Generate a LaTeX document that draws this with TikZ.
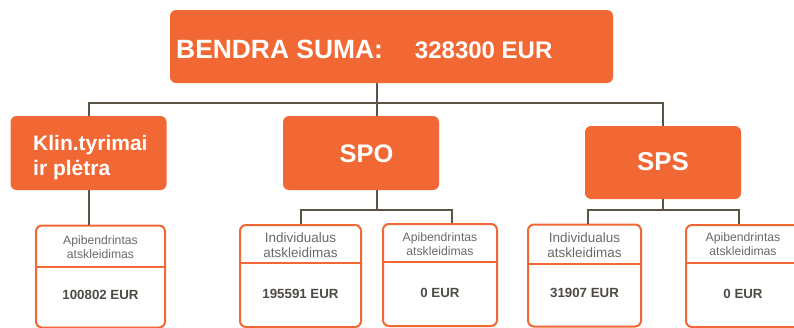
\documentclass[tikz,border=0pt]{standalone}
\usepackage{fontspec}
\setmainfont{Liberation Sans}
\usetikzlibrary{positioning}
\definecolor{oranzine}{HTML}{F26835}
\definecolor{linija}{HTML}{5A5546}
\definecolor{pilka}{HTML}{6B6966}
\definecolor{tamsi}{HTML}{4E4A44}
\tikzset{
  blokas/.style={fill=oranzine, rounded corners=6pt, inner sep=0pt},
  tekstas/.style={text=white, font=\bfseries, inner sep=0pt},
  jungtis/.style={draw=linija, line width=2pt},
  dezute/.style={draw=oranzine, line width=2pt, rounded corners=6pt, inner sep=0pt,
                 minimum height=102pt, anchor=north},
  skyrius/.style={draw=oranzine, line width=2pt},
  antraste/.style={text=pilka, align=center, inner sep=0pt},
  suma/.style={text=tamsi, font=\fontsize{13.3}{15}\selectfont\bfseries, inner sep=0pt},
}

\begin{document}
\begin{tikzpicture}[x=1pt, y=-1pt]
  \useasboundingbox (0,0) rectangle (794,327);
  \clip (0,0) rectangle (794,327);

  % Viršus
  \node[blokas, minimum width=443pt, minimum height=73pt] (bendra) at (391.5,46.5) {};
  \node[tekstas, anchor=base west] (bendralbl) at (176,58.3)
    {\fontsize{26.4}{30}\selectfont BENDRA SUMA:\hspace{32pt}\fontsize{24}{28}\selectfont 328300 EUR};

  % Antras lygis
  \node[blokas, minimum width=156pt, minimum height=74pt] (klin) at (88.5,153) {};
  \node[tekstas, anchor=base west, align=left, font=\fontsize{21}{25}\selectfont\bfseries] (klinlbl) at (33,175)
    {Klin.tyrimai\\ir plėtra};
  \node[blokas, minimum width=156pt, minimum height=74pt] (spo) at (361,153) {};
  \node[tekstas, font=\fontsize{25.4}{30}\selectfont\bfseries] (spolbl) at (366.5,154) {SPO};
  \node[blokas, minimum width=156pt, minimum height=73pt] (sps) at (663,162.5) {};
  \node[tekstas, font=\fontsize{25.8}{30}\selectfont\bfseries] (spslbl) at (663,162) {SPS};

  % Apatinės dėžutės
  \node[dezute, minimum width=129pt] (a1) at (100.5,224.5) {};
  \draw[skyrius] (a1.north west) ++(0,42.5) -- ++(129,0);
  \node[antraste, font=\fontsize{12.2}{14}\selectfont] (a1h) at (100.5,247) {Apibendrintas\\atskleidimas};
  \node[suma] (a1s) at (100.5,295) {100802 EUR};

  \node[dezute, minimum width=121pt] (a2) at (300.5,224) {};
  \draw[skyrius] (a2.north west) ++(0,39) -- ++(121,0);
  \node[antraste, font=\fontsize{13.5}{15.6}\selectfont] (a2h) at (300.5,245) {Individualus\\atskleidimas};
  \node[suma] (a2s) at (300.5,294) {195591 EUR};

  \node[dezute, minimum width=114pt] (a3) at (440,223) {};
  \draw[skyrius] (a3.north west) ++(0,39) -- ++(114,0);
  \node[antraste, font=\fontsize{12.2}{14}\selectfont] (a3h) at (440,244) {Apibendrintas\\atskleidimas};
  \node[suma] (a3s) at (440,293) {0 EUR};

  \node[dezute, minimum width=113pt] (a4) at (584.5,223.5) {};
  \draw[skyrius] (a4.north west) ++(0,40) -- ++(113,0);
  \node[antraste, font=\fontsize{13.5}{15.6}\selectfont] (a4h) at (584.5,245) {Individualus\\atskleidimas};
  \node[suma] (a4s) at (584.5,293) {31907 EUR};

  \node[dezute, minimum width=114pt] (a5) at (743,224) {};
  \draw[skyrius] (a5.north west) ++(0,39) -- ++(114,0);
  \node[antraste, font=\fontsize{12.2}{14}\selectfont] (a5h) at (743,244.5) {Apibendrintas\\atskleidimas};
  \node[suma] (a5s) at (743,294) {0 EUR};

  % Jungtys
  \coordinate (kamienas) at (377,103);
  \draw[jungtis] (bendra.south -| kamienas) -- (spo.north -| kamienas);
  \draw[jungtis] (klin.north) |- (kamienas) -| (sps.north);
  \draw[jungtis] (klin.south) -- (a1.north -| klin.south);

  \coordinate (spoSaka) at (377,210);
  \draw[jungtis] (spo.south -| spoSaka) -- (spoSaka);
  \draw[jungtis] (a2.north) |- (spoSaka) -| ([xshift=12pt]a3.north);

  \coordinate (spsSaka) at (663,210);
  \draw[jungtis] (sps.south) -- (spsSaka);
  \draw[jungtis] ([xshift=3.5pt]a4.north) |- (spsSaka) -| ([xshift=-4pt]a5.north);

\end{tikzpicture}
\end{document}
